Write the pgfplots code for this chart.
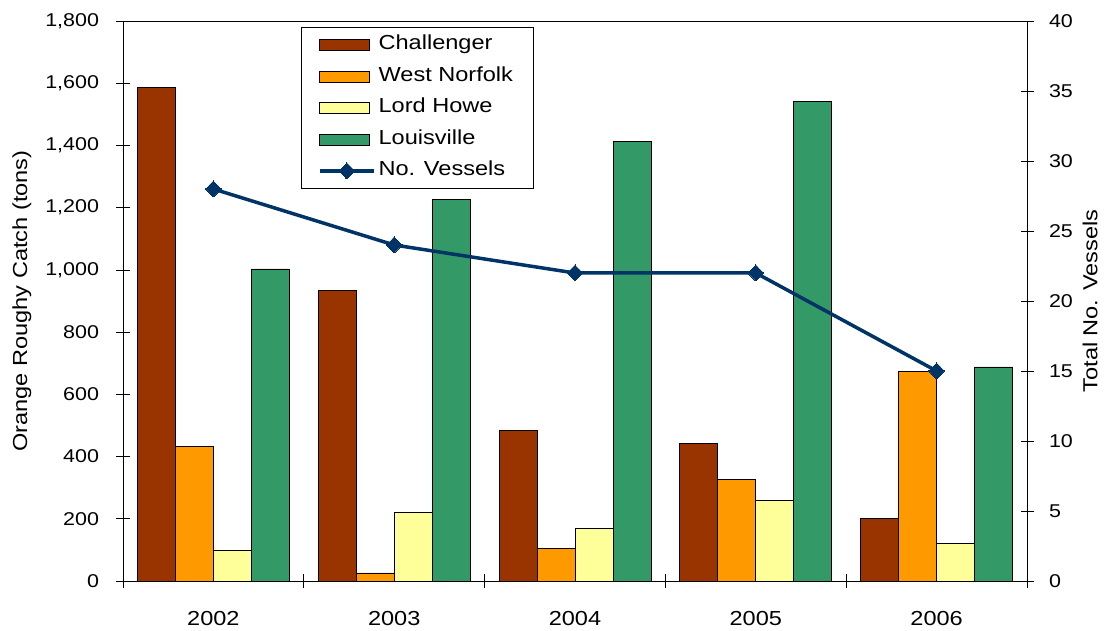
\documentclass[border=0pt]{standalone}
\usepackage{fontspec}
\setmainfont{Liberation Sans}[FakeStretch=1.16]
\usepackage{pgfplots}
\pgfplotsset{compat=1.18}

\definecolor{chall}{HTML}{993300}
\definecolor{wnorf}{HTML}{FF9900}
\definecolor{lhowe}{HTML}{FFFF99}
\definecolor{louis}{HTML}{339966}
\definecolor{vess}{HTML}{003366}

\newcommand\chartfont{\fontsize{18.5bp}{22bp}\selectfont}
\newcommand\bigfont{\fontsize{20.3bp}{24bp}\selectfont}

\pgfplotsset{
  barleg/.style={legend image code/.code={\draw[##1, line width=0.8pt] (0bp,-5.5bp) rectangle (50bp,5.5bp);}},
  lineleg/.style={legend image code/.code={\draw[mark repeat=2, mark phase=2, ##1] plot coordinates {(0bp,0bp) (27bp,0bp) (54bp,0bp)};}},
}

\begin{document}
\begin{tikzpicture}
\useasboundingbox (-123bp,-50bp) rectangle (987bp,581bp);

% catch by ground (left axis)
\begin{axis}[
  at={(0,0)}, anchor=south west,
  scale only axis, width=904bp, height=560bp,
  xmin=-0.5, xmax=4.5, ymin=0, ymax=1800,
  ybar=0pt, bar width=38bp,
  ytick={0,200,...,1800},
  ytick pos=left, xtick pos=bottom,
  xtick={-0.5,0.5,1.5,2.5,3.5,4.5}, xticklabels={,,,,,},
  extra x ticks={0,1,2,3,4},
  extra x tick labels={2002,2003,2004,2005,2006},
  extra x tick style={major tick length=0pt},
  tick align=center, major tick length=13bp,
  axis line style={line width=0.9pt},
  every tick/.style={black, line width=0.7pt},
  ticklabel style={font=\chartfont},
  /pgf/number format/assume math mode=true,
  /pgf/number format/1000 sep={,},
  yticklabel style={xshift=-14bp},
  xticklabel style={yshift=-27bp, font=\bigfont},
  ylabel={Orange Roughy Catch (tons)},
  ylabel style={font=\bigfont, at={([xshift=-101bp]axis description cs:0,0.5)}, anchor=center},
]
\addplot[draw=black, line width=0.8pt, fill=chall] coordinates {(0,1586) (1,934) (2,484) (3,443) (4,201)};
\addplot[draw=black, line width=0.8pt, fill=wnorf] coordinates {(0,432) (1,26) (2,104) (3,327) (4,673)};
\addplot[draw=black, line width=0.8pt, fill=lhowe] coordinates {(0,99) (1,221) (2,169) (3,259) (4,120)};
\addplot[draw=black, line width=0.8pt, fill=louis] coordinates {(0,1003) (1,1225) (2,1414) (3,1540) (4,688)};
\end{axis}

% vessels (right axis)
\begin{axis}[
  at={(0,0)}, anchor=south west,
  scale only axis, width=904bp, height=560bp,
  xmin=-0.5, xmax=4.5, ymin=0, ymax=40,
  axis x line=none, axis y line*=right,
  ytick={0,5,...,40},
  tick align=center, major tick length=13bp,
  axis line style={line width=0.9pt},
  every tick/.style={black, line width=0.7pt},
  ticklabel style={font=\chartfont},
  /pgf/number format/assume math mode=true,
  yticklabel style={xshift=12bp},
  ylabel={Total No. Vessels},
  ylabel style={font=\bigfont, at={([xshift=63bp]axis description cs:1,0.5)}, anchor=center},
  legend style={at={(axis description cs:0.1966,0.9888)}, anchor=north west,
    draw=black, line width=0.8pt, fill=white, font=\bigfont,
    inner xsep=17bp, inner ysep=5bp, row sep=7bp,
    nodes={inner sep=3bp, text height=14bp, text depth=4.5bp},
    /tikz/every odd column/.append style={column sep=0bp}},
  legend cell align=left,
]
\addlegendimage{barleg, fill=chall}
\addlegendentry{Challenger}
\addlegendimage{barleg, fill=wnorf}
\addlegendentry{West Norfolk}
\addlegendimage{barleg, fill=lhowe}
\addlegendentry{Lord Howe}
\addlegendimage{barleg, fill=louis}
\addlegendentry{Louisville}
\addplot[lineleg, color=vess, line width=3.5bp, mark=diamond*, mark size=8bp,
  mark options={solid, fill=vess, line width=0pt, xscale=1.3}]
  coordinates {(0,28) (1,24) (2,22) (3,22) (4,15)};
\addlegendentry{No. Vessels}
\end{axis}
\end{tikzpicture}
\end{document}
